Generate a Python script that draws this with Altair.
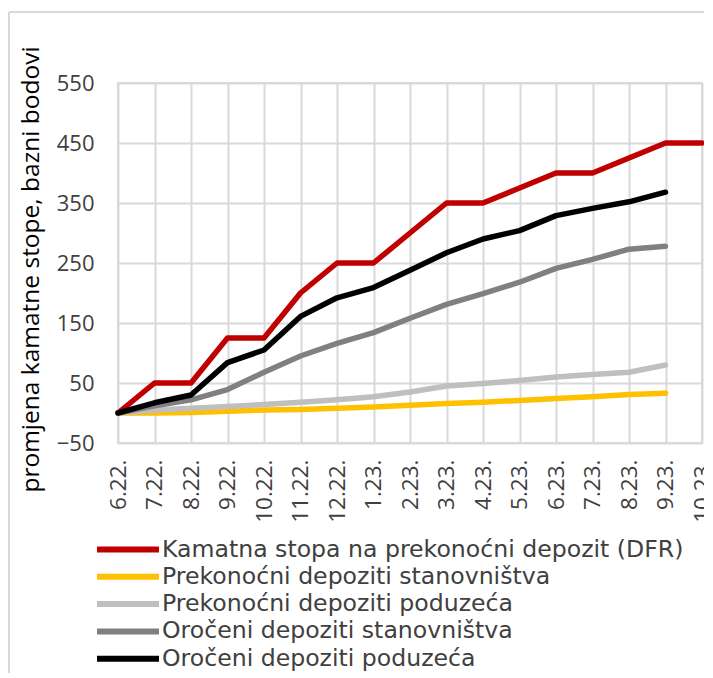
import altair as alt
import pandas as pd

months = ["6.22.", "7.22.", "8.22.", "9.22.", "10.22.", "11.22.", "12.22.",
          "1.23.", "2.23.", "3.23.", "4.23.", "5.23.", "6.23.", "7.23.",
          "8.23.", "9.23.", "10.23."]

series_names = [
    "Kamatna stopa na prekonoćni depozit (DFR)",
    "Prekonoćni depoziti stanovništva",
    "Prekonoćni depoziti poduzeća",
    "Oročeni depoziti stanovništva",
    "Oročeni depoziti poduzeća",
]
series_colors = ["#C00000", "#FFC000", "#BFBFBF", "#808080", "#000000"]

dfr = [0, 50, 50, 125, 125, 200, 250, 250, 300, 350, 350, 375, 400, 400, 425, 450, 450]
prek_stan = [0, 0, 1, 3, 5, 6, 8, 10, 13, 16, 18, 21, 24, 27, 31, 33, None]
prek_pod = [0, 5, 8, 11, 14, 18, 22, 27, 35, 45, 49, 54, 60, 64, 68, 80, None]
oroc_stan = [0, 12, 22, 39, 68, 95, 116, 134, 158, 181, 199, 218, 241, 256, 273, 278, None]
oroc_pod = [0, 17, 30, 84, 105, 161, 192, 209, 238, 267, 290, 304, 329, 341, 352, 368, None]

y_ticks = [-50, 50, 150, 250, 350, 450, 550]

rows = []
for k, (name, vals) in enumerate(zip(series_names, [dfr, prek_stan, prek_pod, oroc_stan, oroc_pod])):
    for m, v in zip(months, vals):
        if v is not None:
            rows.append({"mjesec": m, "serija": name, "vrijednost": v, "red": k})
df = pd.DataFrame(rows)

W, H = 584, 360
FONT = "Open Sans"
LEG_FONT = "DejaVu Sans"
TXT = "#404040"
GRID = "#D9D9D9"

lines = alt.Chart(df).mark_line(strokeWidth=5.5, strokeJoin="round", strokeCap="round").encode(
    x=alt.X("mjesec:N", sort=months,
            scale=alt.Scale(type="point", padding=0),
            axis=alt.Axis(title=None, labelAngle=270, labelFontSize=22.5, labelPadding=16,
                          ticks=False, domain=False, grid=True, gridColor=GRID, gridWidth=2,
                          labelColor=TXT, labelFont=FONT)),
    y=alt.Y("vrijednost:Q",
            scale=alt.Scale(domain=[-50, 550], nice=False, zero=False),
            axis=alt.Axis(values=y_ticks, title="promjena kamatne stope, bazni bodovi",
                          titleFontSize=24.5, titleFont=FONT, titleColor="#000000",
                          titleFontWeight="normal", titleAngle=270, titleX=-87, titleY=H / 2 + 6,
                          titleAlign="center", titleBaseline="middle",
                          labelFontSize=22, labelFont=FONT, labelColor=TXT, labelPadding=24,
                          ticks=False, domain=False, grid=True, gridColor=GRID, gridWidth=2)),
    color=alt.Color("serija:N",
                    scale=alt.Scale(domain=series_names, range=series_colors),
                    legend=alt.Legend(title=None, orient="none", legendX=-24, legendY=453,
                                      symbolType="stroke", symbolSize=3844, symbolStrokeWidth=6,
                                      clipHeight=27, rowPadding=0.3, labelFontSize=23.6,
                                      labelOffset=0, labelFont=LEG_FONT, labelColor=TXT,
                                      labelLimit=0, padding=0)),
    detail="red:O",
)

frame_df = pd.DataFrame({"a": [0]})
border_left = alt.Chart(frame_df).mark_rule(color=GRID, strokeWidth=2).encode(
    x=alt.value(-109), y=alt.value(-71), y2=alt.value(H + 400))
border_top = alt.Chart(frame_df).mark_rule(color=GRID, strokeWidth=2).encode(
    x=alt.value(-109), x2=alt.value(W + 100), y=alt.value(-71))

chart = alt.layer(border_left, border_top, lines).properties(
    width=W, height=H,
    padding={"left": 110, "top": 75, "right": 2, "bottom": 230},
    autosize=alt.AutoSizeParams(type="none"),
).configure_view(stroke=GRID, strokeWidth=2)

chart.save("out.html", embed_options={"renderer": "svg", "actions": False})
